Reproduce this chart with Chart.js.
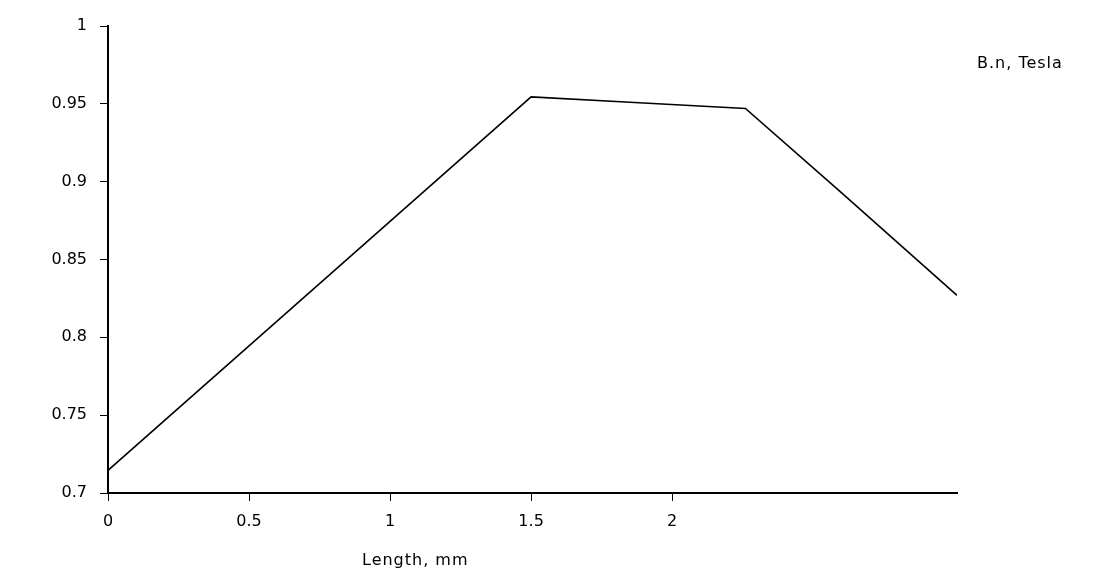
<!DOCTYPE html>
<html>
<head>
<meta charset="utf-8">
<script src="https://cdn.jsdelivr.net/npm/chart.js@4.4.0/dist/chart.umd.min.js"></script>
<style>
  html, body { margin: 0; padding: 0; background: #fff; }
  #wrap { width: 1101px; height: 588px; }
</style>
</head>
<body>
<div id="wrap"><canvas id="chart"></canvas></div>
<script>
// values
const lengthMm = [0, 0.5, 1.0, 1.5, 1.85, 2.26, 2.6, 3.01];
const bNormal = [0.7145, 0.7945, 0.8745, 0.9545, 0.951, 0.947, 0.893, 0.827];
const xTickValues = [0, 0.5, 1, 1.5, 2];
const xTitle = "Length, mm";
const seriesTitle = "B.n, Tesla";

const FONT = "'DejaVu Sans', Verdana, sans-serif";

const textPlugin = {
    id: "axisTexts",
    afterDraw(chart) {
        const ctx = chart.ctx;
        ctx.save();
        ctx.fillStyle = "#000";
        ctx.font = "16px " + FONT;
        ctx.letterSpacing = "1px";
        ctx.textBaseline = "middle";
        ctx.textAlign = "left";
        ctx.fillText(xTitle, 362, 561);
        ctx.fillText(seriesTitle, 977, 64);
        ctx.restore();
    }
};

const ctx = document.getElementById("chart").getContext("2d");
new Chart(ctx, {
    type: "line",
    data: {
        datasets: [{
            label: seriesTitle,
            data: lengthMm.map((x, i) => ({ x: x, y: bNormal[i] })),
            borderColor: "#000",
            borderWidth: 1.6,
            pointRadius: 0,
            tension: 0,
            fill: false
        }]
    },
    options: {
        responsive: true,
        maintainAspectRatio: false,
        animation: false,
        layout: { padding: { top: 26, right: 144, left: 0, bottom: 0 } },
        plugins: {
            legend: { display: false },
            tooltip: { enabled: false }
        },
        scales: {
            x: {
                type: "linear",
                min: 0,
                max: 3.01,
                afterBuildTicks(axis) {
                    axis.ticks = xTickValues.map(v => ({ value: v }));
                },
                afterFit(axis) { axis.height = 95; },
                grid: { drawOnChartArea: false, drawTicks: true, tickLength: 8, color: "#000", tickWidth: 1 },
                border: { color: "#000", width: 2 },
                ticks: {
                    color: "#000",
                    font: { family: FONT, size: 16 },
                    padding: 11,
                    maxRotation: 0,
                    callback: v => String(v)
                }
            },
            y: {
                type: "linear",
                min: 0.7,
                max: 1,
                afterFit(axis) { axis.width = 108; },
                grid: { drawOnChartArea: false, drawTicks: true, tickLength: 8, color: "#000", tickWidth: 1 },
                border: { color: "#000", width: 2 },
                ticks: {
                    stepSize: 0.05,
                    color: "#000",
                    font: { family: FONT, size: 16 },
                    padding: 13,
                    callback: v => String(Math.round(v * 100) / 100)
                }
            }
        }
    },
    plugins: [textPlugin]
});
</script>
</body>
</html>
